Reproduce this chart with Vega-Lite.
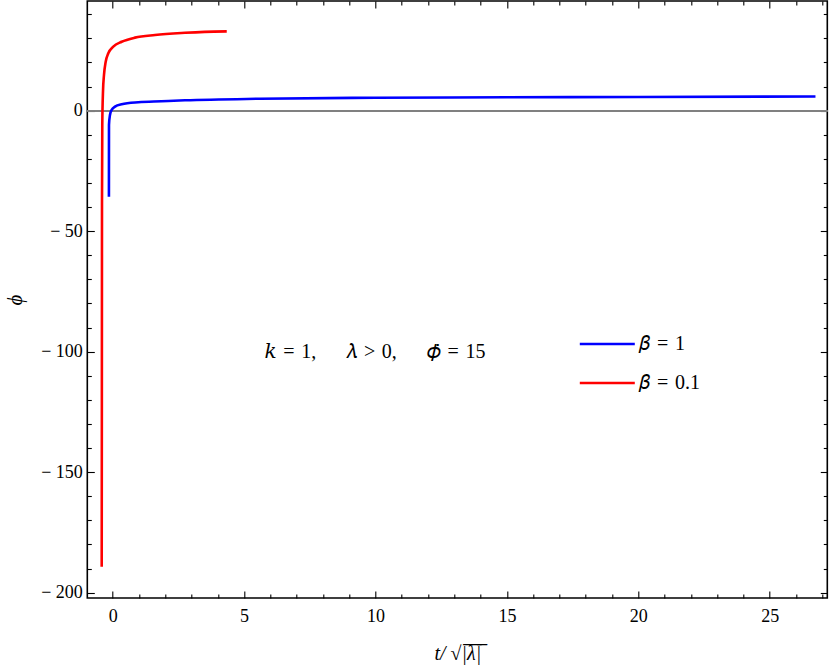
{
  "$schema": "https://vega.github.io/schema/vega-lite/v6.json",
  "width": 740,
  "height": 597,
  "autosize": "none",
  "padding": {"left": 87.3, "top": 1, "right": 2.7, "bottom": 73},
  "background": "white",
  "config": {
    "view": {"stroke": "black", "strokeWidth": 1.6},
    "axis": {
      "domain": false,
      "grid": false,
      "tickColor": "black",
      "tickWidth": 1.1,
      "labelFont": "Liberation Serif",
      "labelFontSize": 18,
      "labelColor": "black",
      "titleFont": "Liberation Serif",
      "titleColor": "black",
      "titleFontWeight": "normal"
    }
  },
  "data": {
    "values": [
      {"series": "𝛽 = 0.1", "i": 0, "t": -0.418, "phi": -189.2},
      {"series": "𝛽 = 0.1", "i": 1, "t": -0.412, "phi": -120},
      {"series": "𝛽 = 0.1", "i": 2, "t": -0.407, "phi": -39.1},
      {"series": "𝛽 = 0.1", "i": 3, "t": -0.396, "phi": -5.9},
      {"series": "𝛽 = 0.1", "i": 4, "t": -0.369, "phi": 7.9},
      {"series": "𝛽 = 0.1", "i": 5, "t": -0.331, "phi": 14.8},
      {"series": "𝛽 = 0.1", "i": 6, "t": -0.266, "phi": 20.3},
      {"series": "𝛽 = 0.1", "i": 7, "t": -0.167, "phi": 23.8},
      {"series": "𝛽 = 0.1", "i": 8, "t": 0.023, "phi": 26.6},
      {"series": "𝛽 = 0.1", "i": 9, "t": 0.342, "phi": 28.6},
      {"series": "𝛽 = 0.1", "i": 10, "t": 0.848, "phi": 30.3},
      {"series": "𝛽 = 0.1", "i": 11, "t": 1.609, "phi": 31.4},
      {"series": "𝛽 = 0.1", "i": 12, "t": 2.75, "phi": 32.3},
      {"series": "𝛽 = 0.1", "i": 13, "t": 3.5, "phi": 32.7},
      {"series": "𝛽 = 0.1", "i": 14, "t": 4.34, "phi": 32.9},
      {"series": "𝛽 = 1", "i": 0, "t": -0.143, "phi": -35.7},
      {"series": "𝛽 = 1", "i": 1, "t": -0.141, "phi": -5.9},
      {"series": "𝛽 = 1", "i": 2, "t": -0.103, "phi": -1.8},
      {"series": "𝛽 = 1", "i": 3, "t": -0.038, "phi": 0.3},
      {"series": "𝛽 = 1", "i": 4, "t": 0.087, "phi": 1.66},
      {"series": "𝛽 = 1", "i": 5, "t": 0.342, "phi": 2.66},
      {"series": "𝛽 = 1", "i": 6, "t": 0.974, "phi": 3.49},
      {"series": "𝛽 = 1", "i": 7, "t": 1.86, "phi": 3.9},
      {"series": "𝛽 = 1", "i": 8, "t": 2.75, "phi": 4.3},
      {"series": "𝛽 = 1", "i": 9, "t": 5.6, "phi": 4.95},
      {"series": "𝛽 = 1", "i": 10, "t": 10, "phi": 5.35},
      {"series": "𝛽 = 1", "i": 11, "t": 15, "phi": 5.55},
      {"series": "𝛽 = 1", "i": 12, "t": 20, "phi": 5.7},
      {"series": "𝛽 = 1", "i": 13, "t": 26.74, "phi": 5.85}
    ]
  },
  "resolve": {"axis": {"x": "independent", "y": "independent"}},
  "layer": [
    {
      "mark": {"type": "rule", "color": "#808080", "strokeWidth": 1.3},
      "encoding": {
        "y": {"datum": 0, "type": "quantitative", "scale": {"domain": [-202.2, 45.5], "nice": false, "zero": false}, "axis": null}
      }
    },
    {
      "mark": {"type": "line", "strokeWidth": 2.6, "interpolate": "monotone"},
      "encoding": {
        "x": {
          "field": "t", "type": "quantitative",
          "scale": {"domain": [-0.966, 27.19], "nice": false, "zero": false},
          "axis": {"orient": "bottom", "values": [0, 5, 10, 15, 20, 25], "ticks": false, "labelPadding": 9,
                   "title": "t/ √|̅λ̅|̅", "titleFontSize": 20, "titleFontStyle": "italic", "titlePadding": 18}
        },
        "y": {
          "field": "phi", "type": "quantitative",
          "scale": {"domain": [-202.2, 45.5], "nice": false, "zero": false},
          "axis": {"orient": "left", "values": [-200, -150, -100, -50, 0], "ticks": false, "labelPadding": 5,
                   "labelExpr": "replace(datum.label, '−', '−\u2005')",
                   "title": "ϕ", "titleFontSize": 21, "titleFontStyle": "italic", "titlePadding": 15}
        },
        "color": {
          "field": "series", "type": "nominal",
          "scale": {"domain": ["𝛽 = 1", "𝛽 = 0.1"], "range": ["#0000ff", "#ff0000"]},
          "legend": {
            "orient": "none", "legendX": 491, "legendY": 314, "title": null, "padding": 0,
            "symbolType": "stroke", "symbolSize": 3025, "symbolStrokeWidth": 2.6,
            "labelFont": "Liberation Serif, DejaVu Serif", "labelFontSize": 20, "labelColor": "black",
            "labelExpr": "replace(datum.label, ' = ', '\u2004=\u2004')",
            "labelOffset": 3, "rowPadding": -23, "labelLimit": 300
          }
        },
        "order": {"field": "i", "type": "quantitative"}
      }
    },
    {
      "mark": {"type": "point", "opacity": 0},
      "encoding": {
        "x": {"field": "t", "type": "quantitative",
              "axis": {"orient": "bottom", "values": [0, 5, 10, 15, 20, 25], "labels": false, "tickSize": -7, "title": null}},
        "y": {"field": "phi", "type": "quantitative",
              "axis": {"orient": "left", "values": [-200, -150, -100, -50, 0], "labels": false, "tickSize": -7, "title": null}}
      }
    },
    {
      "mark": {"type": "point", "opacity": 0},
      "encoding": {
        "x": {"field": "t", "type": "quantitative",
              "axis": {"orient": "bottom", "values": [1, 2, 3, 4, 6, 7, 8, 9, 11, 12, 13, 14, 16, 17, 18, 19, 21, 22, 23, 24, 26, 27], "labels": false, "tickSize": -4, "title": null}},
        "y": {"field": "phi", "type": "quantitative",
              "axis": {"orient": "left", "values": [-190, -180, -170, -160, -140, -130, -120, -110, -90, -80, -70, -60, -40, -30, -20, -10, 10, 20, 30, 40], "labels": false, "tickSize": -4, "title": null}}
      }
    },
    {
      "mark": {"type": "point", "opacity": 0},
      "encoding": {
        "x": {"field": "t", "type": "quantitative",
              "axis": {"orient": "top", "values": [0, 5, 10, 15, 20, 25], "labels": false, "tickSize": -7, "title": null}},
        "y": {"field": "phi", "type": "quantitative",
              "axis": {"orient": "right", "values": [-200, -150, -100, -50, 0], "labels": false, "tickSize": -7, "title": null}}
      }
    },
    {
      "mark": {"type": "point", "opacity": 0},
      "encoding": {
        "x": {"field": "t", "type": "quantitative",
              "axis": {"orient": "top", "values": [1, 2, 3, 4, 6, 7, 8, 9, 11, 12, 13, 14, 16, 17, 18, 19, 21, 22, 23, 24, 26, 27], "labels": false, "tickSize": -4, "title": null}},
        "y": {"field": "phi", "type": "quantitative",
              "axis": {"orient": "right", "values": [-190, -180, -170, -160, -140, -130, -120, -110, -90, -80, -70, -60, -40, -30, -20, -10, 10, 20, 30, 40], "labels": false, "tickSize": -4, "title": null}}
      }
    },
    {
      "data": {"values": [{"t": 9.98, "phi": -100, "note": "𝑘\u2004=\u20041,\u2003\u2002𝜆\u2004>\u20040,\u2003\u2002𝜙̇\u2004=\u200415"}]},
      "mark": {"type": "text", "font": "Liberation Serif, DejaVu Serif", "fontSize": 20, "color": "black", "align": "center", "baseline": "middle"},
      "encoding": {
        "x": {"field": "t", "type": "quantitative", "axis": null},
        "y": {"field": "phi", "type": "quantitative", "axis": null},
        "text": {"field": "note"}
      }
    }
  ]
}
